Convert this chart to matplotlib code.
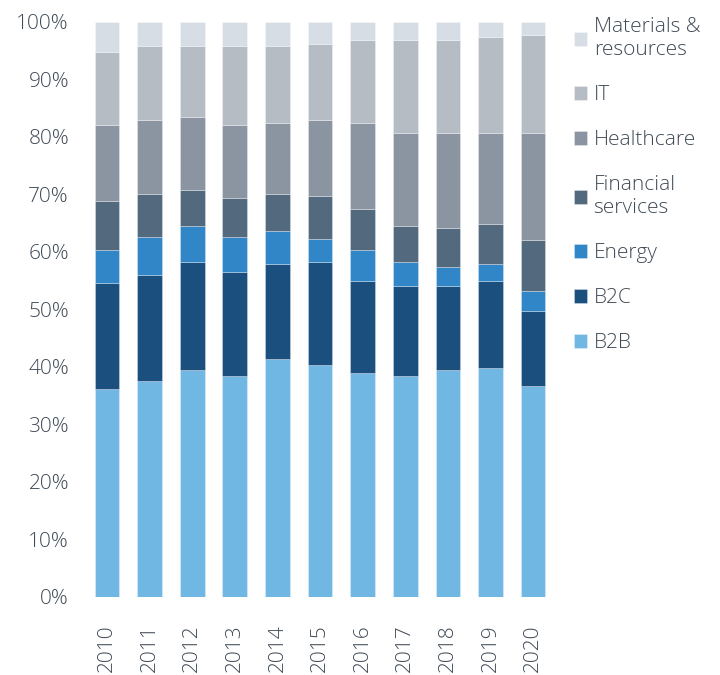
import matplotlib
matplotlib.use("Agg")
import matplotlib.pyplot as plt
import numpy as np

years = ["2010", "2011", "2012", "2013", "2014", "2015", "2016", "2017", "2018", "2019", "2020"]
b2b = [36.1, 37.5, 39.4, 38.5, 41.3, 40.4, 39.0, 38.5, 39.4, 39.9, 36.6]
b2c = [18.5, 18.4, 18.9, 18.0, 16.6, 17.9, 16.0, 15.5, 14.6, 15.1, 13.2]
energy = [5.7, 6.7, 6.2, 6.1, 5.7, 3.9, 5.3, 4.3, 3.4, 2.9, 3.4]
financial = [8.5, 7.5, 6.2, 6.7, 6.5, 7.5, 7.1, 6.2, 6.7, 7.0, 8.9]
healthcare = [13.3, 12.9, 12.8, 12.8, 12.4, 13.3, 15.1, 16.1, 16.5, 15.7, 18.5]
it = [12.7, 12.8, 12.3, 13.7, 13.3, 13.2, 14.3, 16.2, 16.2, 16.7, 17.1]
materials = [5.2, 4.2, 4.2, 4.2, 4.2, 3.8, 3.2, 3.2, 3.2, 2.7, 2.3]

series_names = ["B2B", "B2C", "Energy", "Financial\nservices", "Healthcare", "IT", "Materials &\nresources"]
series_vals = [b2b, b2c, energy, financial, healthcare, it, materials]
colors = ["#71B7E3", "#1A4F7E", "#3186C8", "#52697E", "#8B95A1", "#B6BCC3", "#D7DDE5"]

plt.rcParams['font.family'] = ['Open Sans', 'DejaVu Sans']
plt.rcParams['font.weight'] = 'light'
text_color = "#3F4A56"

fig = plt.figure(figsize=(7.2, 6.75), dpi=100)
ax = fig.add_axes([0.119, 0.1156, 0.651, 0.852])

x = np.arange(len(years))
bottom = np.zeros(len(years))
handles = []
for name, vals, c in zip(series_names, series_vals, colors):
    v = np.array(vals)
    h = ax.bar(x, v, bottom=bottom, width=0.58, color=c, edgecolor=(1, 1, 1, 0.35),
               linewidth=0.6, label=name)
    handles.append(h)
    bottom += v

ax.set_xlim(-0.5, len(years) - 0.5)
ax.set_ylim(0, 100)
ax.set_yticks(np.arange(0, 101, 10))
ax.set_yticklabels([f"{v}%" for v in range(0, 101, 10)])
ax.set_xticks(x)
ax.set_xticklabels(years, rotation=90)
for s in ax.spines.values():
    s.set_visible(False)
ax.tick_params(axis='y', length=0, pad=12, labelsize=15, labelcolor=text_color)
ax.tick_params(axis='x', length=0, pad=20, labelsize=15, labelcolor=text_color)

leg = fig.legend(handles[::-1], series_names[::-1], loc='upper left',
                 bbox_to_anchor=(0.797, 0.975), frameon=False, fontsize=15,
                 handlelength=0.65, handleheight=0.65, handletextpad=0.3,
                 labelspacing=1.2, labelcolor=text_color, borderaxespad=0,
                 borderpad=0)

fig.savefig("out.png", dpi=100)
